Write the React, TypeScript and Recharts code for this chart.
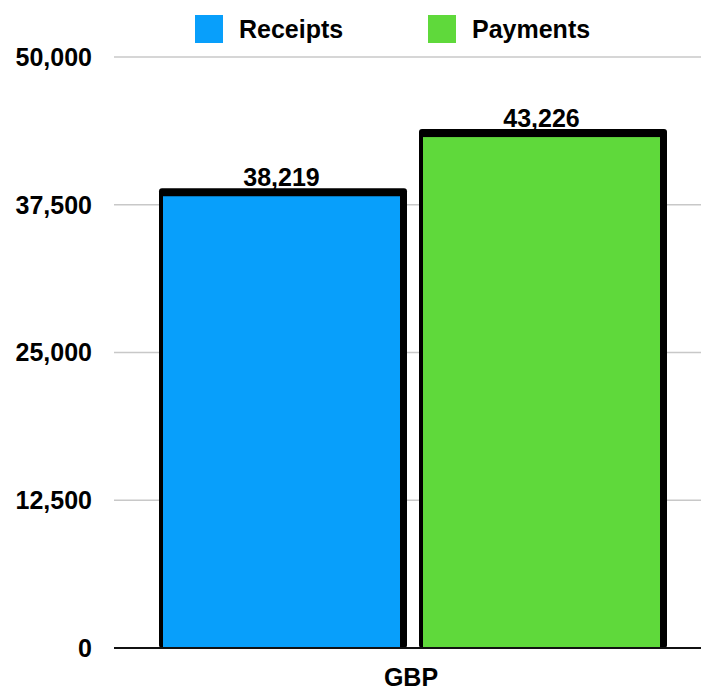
import { BarChart, Bar, XAxis, YAxis, CartesianGrid, LabelList, Legend } from "recharts"

const categories = ["GBP"]
const receipts = [38219]
const payments = [43226]
const yTicks = [0, 12500, 25000, 37500, 50000]
const seriesNames = ["Receipts", "Payments"]
const seriesColors = ["#089ffb", "#5fd93b"]

const data = categories.map((c, i) => ({ name: c, receipts: receipts[i], payments: payments[i] }))

const FONT = '"Liberation Sans", Arial, Helvetica, sans-serif'

// bar with the heavy black outline that sits up and to the right
const OutlinedBar = (props: any) => {
  const { x, y, width, height, fill } = props
  const bottom = y + height
  return (
    <g>
      <rect x={x - 4} y={y - 8} width={width + 11} height={bottom - y + 8} rx={3} fill="#000" />
      <rect x={x} y={y} width={width} height={height} fill={fill} />
    </g>
  )
}

const fmt = (v: number) => v.toLocaleString("en-US")

const LegendContent = () => (
  <div style={{ position: "relative", height: 57, fontFamily: FONT, fontSize: 25, fontWeight: 600 }}>
    {seriesNames.map((n, i) => (
      <div key={n} style={{ position: "absolute", left: i === 0 ? 195 : 428, top: 15, display: "flex", alignItems: "center" }}>
        <span style={{ width: 28, height: 28, background: seriesColors[i], display: "inline-block" }} />
        <span style={{ marginLeft: 16, lineHeight: "28px" }}>{n}</span>
      </div>
    ))}
  </div>
)

export default function App() {
  return (
    <div style={{ position: "absolute", left: 0, top: 0, width: 701, height: 691, background: "#fff", overflow: "hidden" }}>
      <BarChart
        width={701}
        height={691}
        data={data}
        margin={{ top: 0, right: 0, bottom: 0, left: 0 }}
        barSize={237}
        barGap={23}
        style={{ fontFamily: FONT }}
      >
        <Legend verticalAlign="top" content={<LegendContent />} wrapperStyle={{ top: 0, left: 0, width: 701, height: 57 }} />
        <CartesianGrid vertical={false} stroke="#c8c8c8" strokeWidth={1.5} />
        <XAxis
          dataKey="name"
          height={43}
          padding={{ left: 7, right: 0 }}
          axisLine={{ stroke: "#111", strokeWidth: 2 }}
          tickLine={false}
          tickMargin={14}
          tick={{ fill: "#000", fontSize: 25, fontWeight: 600 }}
        />
        <YAxis
          width={114}
          domain={[0, 50000]}
          ticks={yTicks}
          tickFormatter={fmt}
          axisLine={false}
          tickLine={false}
          tickMargin={16}
          tick={{ fill: "#000", fontSize: 25, fontWeight: 600 }}
        />
        <Bar dataKey="receipts" name={seriesNames[0]} fill={seriesColors[0]} shape={<OutlinedBar />} isAnimationActive={false}>
          <LabelList dataKey="receipts" position="top" offset={10} formatter={fmt} style={{ fill: "#000", fontSize: 25, fontWeight: 600 }} />
        </Bar>
        <Bar dataKey="payments" name={seriesNames[1]} fill={seriesColors[1]} shape={<OutlinedBar />} isAnimationActive={false}>
          <LabelList dataKey="payments" position="top" offset={10} formatter={fmt} style={{ fill: "#000", fontSize: 25, fontWeight: 600 }} />
        </Bar>
      </BarChart>
    </div>
  )
}
